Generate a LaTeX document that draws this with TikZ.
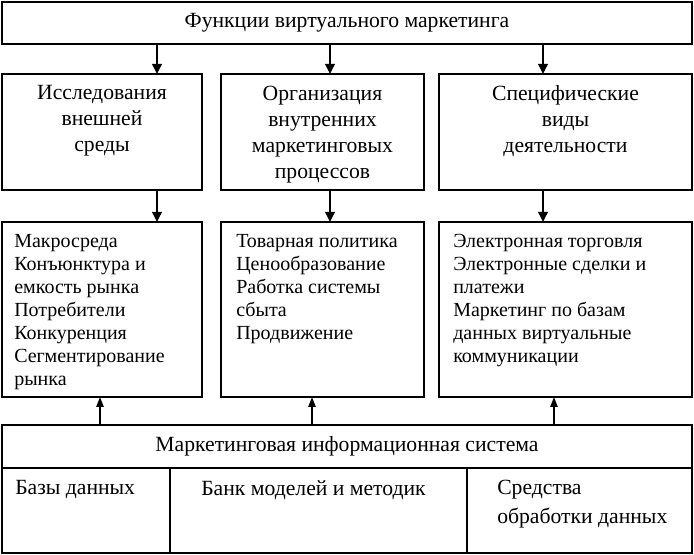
\documentclass[tikz,border=0pt]{standalone}
\usepackage{fontspec}
\setmainfont{Liberation Serif}
\usetikzlibrary{arrows.meta}
\tikzset{
  box/.style={draw, line width=1pt, inner sep=0pt, outer sep=0pt},
  wide/.style={box, line width=1.5pt, minimum width=517.5pt, font=\fontsize{16.25}{19.5}\selectfont},
  hdtext/.style={inner sep=0pt, align=center, anchor=north, font=\fontsize{16.25}{19.5}\selectfont},
  listtext/.style={inner sep=0pt, align=left, anchor=north west, font=\fontsize{15}{17.25}\selectfont},
  celltext/.style={inner sep=0pt, align=left, anchor=north west, font=\fontsize{16.25}{21.75}\selectfont},
}
\begin{document}
\begin{tikzpicture}[x=0.75pt,y=-0.75pt,font=\fontsize{15}{17.25}\selectfont,
    down/.style={->,>={Triangle[length=7.5pt,width=7pt]},line width=1.8pt},
    up/.style={->,>={Triangle[length=7.5pt,width=5.5pt]},line width=1.3pt}]
  \useasboundingbox (0,0) rectangle (694,555);
  % top
  \node[wide, minimum height=31.5pt] (top) at (347,23) {Функции виртуального маркетинга};
  % functions and their contents
  \foreach \i/\cx/\w in {1/102/150,2/322.5/152.25,3/565.5/189.75}{
    \node[box, minimum width=\w pt, minimum height=87pt] (m\i) at (\cx,132) {};
    \node[box, minimum width=\w pt, minimum height=131.25pt] (c\i) at (\cx,309.5) {};
  }
  \node[hdtext] (h1) at (102,85.5) {Исследования\\внешней\\среды};
  \node[hdtext] (h2) at (322.5,85.5) {Организация\\внутренних\\маркетинговых\\процессов};
  \node[hdtext] (h3) at (565.5,85.5) {Специфические\\виды\\деятельности};
  \node[listtext] (l1) at (14,234) {Макросреда\\Конъюнктура и\\емкость рынка\\Потребители\\Конкуренция\\Сегментирование\\рынка};
  \node[listtext] (l2) at (236,234) {Товарная политика\\Ценообразование\\Работка системы\\сбыта\\Продвижение};
  \node[listtext] (l3) at (453,234) {Электронная торговля\\Электронные сделки и\\платежи\\Маркетинг по базам\\данных виртуальные\\коммуникации};
  % information system
  \node[wide, minimum height=32.25pt] (mis) at (347,446.5) {Маркетинговая информационная система};
  \node[box, line width=1.5pt, minimum width=126pt, minimum height=63.75pt] (b1) at (86,510.5) {};
  \node[box, line width=1.5pt, minimum width=222.75pt, minimum height=63.75pt] (b2) at (318.5,510.5) {};
  \node[box, line width=1.5pt, minimum width=168.75pt, minimum height=63.75pt] (b3) at (579.5,510.5) {};
  \node[celltext] (s1) at (15,480) {Базы данных};
  \node[celltext] (s2) at (201,480) {Банк моделей и методик};
  \node[celltext] (s3) at (497,480) {Средства\\обработки данных};
  % arrows
  \foreach \i/\xa/\xb in {1/157/100,2/330/312,3/543/554}{
    \coordinate (d\i) at (\xa,0);
    \coordinate (u\i) at (\xb,0);
    \draw[down] (top.south -| d\i) -- (m\i.north -| d\i);
    \draw[down] (m\i.south -| d\i) -- (c\i.north -| d\i);
    \draw[up] (mis.north -| u\i) -- (c\i.south -| u\i);
  }
\end{tikzpicture}
\end{document}
